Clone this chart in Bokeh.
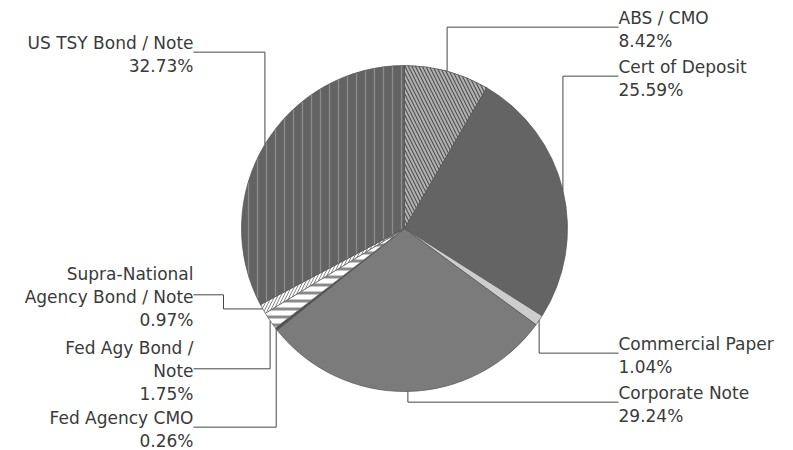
import numpy as np
from bokeh.plotting import figure
from bokeh.models import Range1d, ColumnDataSource
from bokeh.core.properties import value
from bokeh.embed import file_html
from bokeh.resources import INLINE

# Portfolio allocation by security type (percent of total)
categories = [
    "ABS / CMO",
    "Cert of Deposit",
    "Commercial Paper",
    "Corporate Note",
    "Fed Agency CMO",
    "Fed Agy Bond /\nNote",
    "Supra-National\nAgency Bond / Note",
    "US TSY Bond / Note",
]
shares = [8.42, 25.59, 1.04, 29.24, 0.26, 1.75, 0.97, 32.73]

# Slice styling
fills = ["#505050", "#646464", "#cdcdcd", "#7b7b7b", "#4f4f4f", "#ffffff", "#ffffff", "#636363"]
hatches = ["\\", " ", " ", " ", " ", "-", "/", "|"]
hatch_colors = ["#b2b2b2", "#000000", "#000000", "#000000", "#000000", "#8a8a8a", "#8a8a8a", "#8c8c8c"]
hatch_scales = [7, 8, 8, 8, 8, 8, 6, 9]
hatch_weights = [2, 1, 1, 1, 1, 3, 1, 1.3]

# Label placement: x anchor, screen y of first text line, alignment, leader routing
label_x = [618, 618, 618, 618, 193, 193, 193, 193]
label_top = [17, 66, 343, 392, 417, 347, 273, 42]
label_align = ["left", "left", "left", "left", "right", "right", "right", "right"]
leader_elbow_x = [None, None, None, None, None, None, 223, None]

W, H = 793, 450
CX, CY, R = 404, 222, 163
LINE_H = 23.3

def sy(y_screen):
    return H - y_screen

p = figure(width=W, height=H, x_range=Range1d(0, W), y_range=Range1d(0, H),
           toolbar_location=None, output_backend="svg", min_border=0,
           x_axis_location=None, y_axis_location=None,
           background_fill_color="white", border_fill_color="white")
p.outline_line_color = None
p.grid.visible = False

fr = np.array(shares) / sum(shares)
cum = np.concatenate([[0.0], np.cumsum(fr)])
start = np.pi / 2 - 2 * np.pi * cum[:-1]
end = np.pi / 2 - 2 * np.pi * cum[1:]

src = ColumnDataSource(dict(
    x=[CX] * len(shares), y=[CY] * len(shares),
    start=start, end=end, fill=fills, hatch=hatches,
    hcol=hatch_colors, hscale=hatch_scales, hweight=hatch_weights,
))
p.wedge(x="x", y="y", radius=R, start_angle="start", end_angle="end",
        direction="clock", source=src, fill_color="fill",
        hatch_pattern="hatch", hatch_color="hcol", hatch_scale="hscale",
        hatch_weight="hweight", line_color="#555555", line_width=0.7)

# Leader lines and labels
for i, name in enumerate(categories):
    mid = 2 * np.pi * (cum[i] + cum[i + 1]) / 2
    ex, ey = CX + R * np.sin(mid), CY + R * np.cos(mid)
    lines = name.split("\n") + [f"{shares[i]:.2f}%"]
    n = len(lines)
    ly = sy(label_top[i] + LINE_H * (n - 1) / 2 - 2)
    if leader_elbow_x[i] is None:
        xs = [ex, ex, label_x[i]]
        ys = [ey, ly, ly]
    else:
        bx = leader_elbow_x[i]
        xs = [ex, bx, bx, label_x[i]]
        ys = [ey, ey, ly, ly]
    p.line(xs, ys, line_color="#474747", line_width=1)
    ys_txt = [sy(label_top[i] + k * LINE_H) for k in range(n)]
    p.text(x=[label_x[i]] * n, y=ys_txt, text=lines,
           text_font=value("DejaVu Sans"), text_font_size="17px",
           text_color="#3a3a3a", text_align=label_align[i],
           text_baseline="middle")

open("out.html", "w").write(file_html(p, INLINE))
